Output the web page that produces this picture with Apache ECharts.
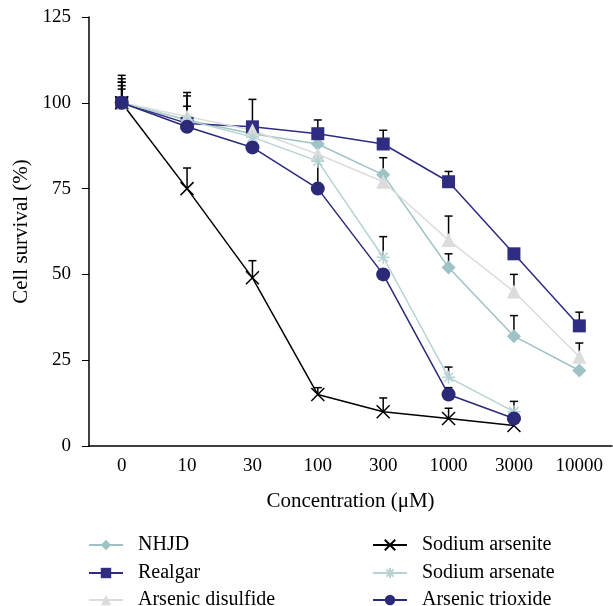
<!DOCTYPE html>
<html>
<head>
<meta charset="utf-8">
<script src="https://cdn.jsdelivr.net/npm/echarts@6/dist/echarts.min.js"></script>
<style>
  html, body { margin: 0; padding: 0; background: #fff; }
  #main { width: 613px; height: 606px; }
</style>
</head>
<body>
<div id="main"></div>
<script>
// concentrations (uM)
var categories = ["0", "10", "30", "100", "300", "1000", "3000", "10000"];
var yTicks = [0, 25, 50, 75, 100, 125];

var nhjd = [100, 95, 91, 88, 79, 52, 32, 22];
var nhjdErr = [7, 7, null, null, 5, 4, 6, null];
var realgar = [100, 94, 93, 91, 88, 77, 56, 35];
var realgarErr = [5, 9, 8, 4, 4, 3, 1, 4];
var disulfide = [100, 96, 92, 85, 77, 60, 45, 26];
var disulfideErr = [6, 3, null, null, null, 7, 5, 4];
var arsenite = [100, 75, 49, 15, 10, 8, 6, null];
var arseniteErr = [8, 6, 5, 2, 4, 3, null, null];
var arsenate = [100, 95, 90, 83, 55, 20, 10, null];
var arsenateErr = [4, null, null, null, 6, 3, 3, null];
var trioxide = [100, 93, 87, 75, 50, 15, 8, null];
var trioxideErr = [6, null, null, 8, null, 2, null, null];

var font = "Liberation Serif";
var X_PATH = "path://M0,0L10,10M10,0L0,10";
var STAR_PATH = "path://M5,0L5,10M0,5L10,5M1.5,1.5L8.5,8.5M8.5,1.5L1.5,8.5";

function errData(vals, errs) {
  var out = [];
  vals.forEach(function (v, i) {
    if (v != null && errs[i] != null) out.push([i, v, errs[i]]);
  });
  return out;
}

var errPoints = [].concat(
  errData(nhjd, nhjdErr),
  errData(realgar, realgarErr),
  errData(disulfide, disulfideErr),
  errData(arsenite, arseniteErr),
  errData(arsenate, arsenateErr),
  errData(trioxide, trioxideErr)
);

function lineSeries(name, data, color, symbol, size, hollow) {
  return {
    name: name,
    type: "line",
    data: data,
    symbol: symbol,
    symbolSize: size,
    showAllSymbol: true,
    z: 3,
    lineStyle: { color: color, width: 1.5 },
    itemStyle: hollow
      ? { color: "none", borderColor: color, borderWidth: 1.5 }
      : { color: color, borderWidth: 0 },
    emphasis: { disabled: true },
    animation: false
  };
}

// one legend per entry so the two columns sit where the original has them
function legendAt(name, left, rowCenter) {
  return {
    left: left, top: rowCenter - 8, padding: 0,
    itemWidth: 34, itemHeight: 13,
    textStyle: { fontFamily: font, fontSize: 20, color: "#000", padding: [0, 0, 0, 10] },
    data: [name]
  };
}

var chart = echarts.init(document.getElementById("main"));
chart.setOption({
  animation: false,
  textStyle: { fontFamily: font },
  grid: { left: 89, right: 1, top: 17, bottom: 160 },
  legend: [
    legendAt("NHJD", 88, 543),
    legendAt("Realgar", 88, 571),
    legendAt("Arsenic disulfide", 88, 598),
    legendAt("Sodium arsenite", 372, 543),
    legendAt("Sodium arsenate", 372, 571),
    legendAt("Arsenic trioxide", 372, 598)
  ],
  xAxis: [
    {
      type: "category",
      data: categories,
      boundaryGap: true,
      name: "Concentration (\u03BCM)",
      nameLocation: "middle",
      nameGap: 45,
      nameTextStyle: { fontFamily: font, fontSize: 21, color: "#000" },
      axisLine: { lineStyle: { color: "#000", width: 1.5 } },
      axisTick: { alignWithLabel: true, inside: true, length: 6, lineStyle: { color: "#000" } },
      axisLabel: { fontFamily: font, fontSize: 19, color: "#000", margin: 11, interval: 0 }
    },
    {
      type: "category",
      data: categories,
      position: "bottom",
      axisLine: { show: false },
      axisTick: { inside: true, length: 6, interval: 0, lineStyle: { color: "#000" } },
      axisLabel: { show: false }
    }
  ],
  yAxis: {
    type: "value",
    min: yTicks[0],
    max: yTicks[yTicks.length - 1],
    interval: 25,
    name: "Cell survival (%)",
    nameLocation: "middle",
    nameGap: 56,
    nameTextStyle: { fontFamily: font, fontSize: 21, color: "#000" },
    axisLine: { show: true, lineStyle: { color: "#000", width: 1.5 } },
    axisTick: { show: true, length: 7, lineStyle: { color: "#000" } },
    axisLabel: { fontFamily: font, fontSize: 19, color: "#000", margin: 18 },
    splitLine: { show: false }
  },
  series: [
    {
      type: "custom",
      z: 1,
      silent: true,
      data: errPoints,
      renderItem: function (params, api) {
        var x = api.value(0), v = api.value(1), e = api.value(2);
        var p0 = api.coord([x, v]);
        var p1 = api.coord([x, v + e]);
        var w = 8;
        var st = { stroke: "#000", lineWidth: 1.5 };
        return {
          type: "group",
          children: [
            { type: "line", shape: { x1: p0[0], y1: p0[1], x2: p1[0], y2: p1[1] }, style: st },
            { type: "line", shape: { x1: p1[0] - w / 2, y1: p1[1], x2: p1[0] + w / 2, y2: p1[1] }, style: st }
          ]
        };
      }
    },
    lineSeries("NHJD", nhjd, "#9fc3c5", "diamond", 14),
    lineSeries("Realgar", realgar, "#2e2d82", "rect", 13),
    lineSeries("Arsenic disulfide", disulfide, "#dcdcdc", "triangle", 14),
    lineSeries("Sodium arsenite", arsenite, "#000000", X_PATH, 13, true),
    lineSeries("Sodium arsenate", arsenate, "#b5d3d3", STAR_PATH, 13, true),
    lineSeries("Arsenic trioxide", trioxide, "#2b2a78", "circle", 14)
  ]
});
</script>
</body>
</html>
